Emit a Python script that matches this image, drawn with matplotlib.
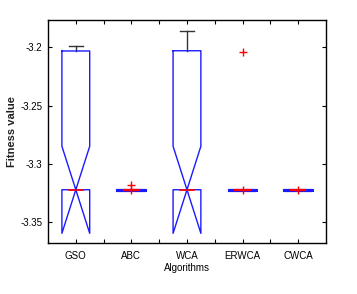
import matplotlib.pyplot as plt
from matplotlib.ticker import FixedLocator

plt.rcParams['font.family'] = ['Liberation Sans', 'DejaVu Sans']

ALGORITHMS = ['GSO', 'ABC', 'WCA', 'ERWCA', 'CWCA']

# box statistics
Q1 = [-3.3223, -3.3223, -3.3223, -3.3223, -3.3223]
MEDIAN = [-3.3223, -3.3223, -3.3223, -3.3223, -3.3223]
Q3 = [-3.2032, -3.3223, -3.2030, -3.3223, -3.3223]
NOTCH_LO = [-3.3597, -3.3223, -3.3597, -3.3223, -3.3223]
NOTCH_HI = [-3.2850, -3.3223, -3.2850, -3.3223, -3.3223]
WHISK_LO = [-3.3223, -3.3223, -3.3223, -3.3223, -3.3223]
WHISK_HI = [-3.1990, -3.3223, -3.1858, -3.3223, -3.3223]
OUTLIERS = [[], [-3.3178, -3.3223], [], [-3.2038, -3.3223], [-3.3223]]

BLUE = '#1a1aff'
RED = '#ff0000'

fig = plt.figure(figsize=(3.57, 2.94), dpi=100)
ax = fig.add_axes([0.1345, 0.1735, 0.7785, 0.7585])

half = 0.25
for i, name in enumerate(ALGORITHMS):
    x = i + 1
    # whiskers and caps
    ax.plot([x, x], [Q3[i], WHISK_HI[i]], color='#333333', lw=1, zorder=2)
    ax.plot([x, x], [Q1[i], WHISK_LO[i]], color='#333333', lw=1, zorder=2)
    if WHISK_HI[i] > Q3[i]:
        ax.plot([x - 0.125, x + 0.125], [WHISK_HI[i]] * 2, color='#333333', lw=1, zorder=2)
    # notched box outline
    xs = [x - half, x + half, x + half, x, x + half, x + half, x - half, x - half, x, x - half, x - half]
    ys = [Q3[i], Q3[i], NOTCH_HI[i], MEDIAN[i], NOTCH_LO[i], Q1[i], Q1[i], NOTCH_LO[i], MEDIAN[i], NOTCH_HI[i], Q3[i]]
    lw = 1.0 if Q3[i] > Q1[i] else 2.2
    ax.plot(xs, ys, color=BLUE, lw=lw, zorder=3)
    # median
    ax.plot([x - 0.13, x + 0.13], [MEDIAN[i]] * 2, color=RED, lw=1.2 if lw == 1.0 else 1.6, zorder=4)
    # outliers
    if OUTLIERS[i]:
        ax.plot([x] * len(OUTLIERS[i]), OUTLIERS[i], '+', color=RED, ms=6, mew=1, zorder=5)

ax.set_xlim(0.5, 5.5)
ax.set_ylim(-3.368, -3.1766)
ax.set_xticks(range(1, 6))
ax.set_xticklabels(ALGORITHMS)
ax.xaxis.set_minor_locator(FixedLocator([1.5, 2.5, 3.5, 4.5]))
ax.set_yticks([-3.35, -3.3, -3.25, -3.2])
ax.set_yticklabels(['-3.35', '-3.3', '-3.25', '-3.2'])
ax.tick_params(which='both', direction='in', top=True, right=True, length=3,
               width=0.8, labelsize=7, colors='black', pad=4)
ax.tick_params(axis='x', pad=6)
for s in ax.spines.values():
    s.set_linewidth(1.0)

ax.set_ylabel('Fitness value', fontsize=8, fontweight='bold', color='#222222')
ax.yaxis.set_label_coords(-0.11, 0.5)
ax.set_xlabel('Algorithms', fontsize=7, labelpad=1)

fig.savefig('out.png', dpi=100)
